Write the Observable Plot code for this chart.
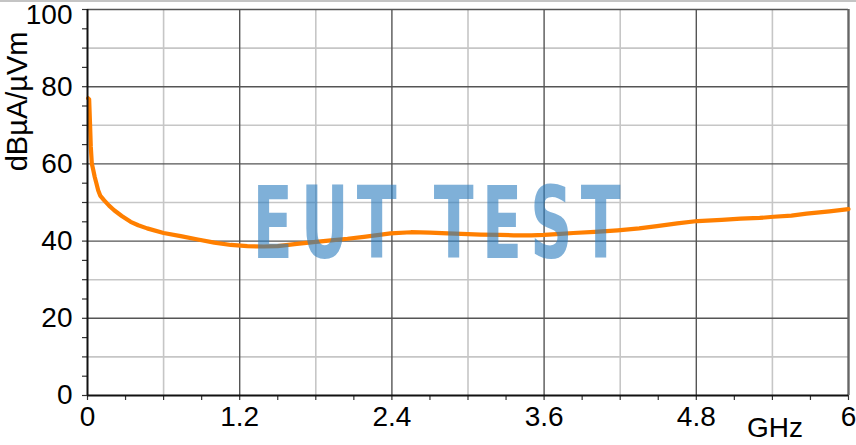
<!DOCTYPE html>
<html>
<head>
<meta charset="utf-8">
<script src="https://cdn.jsdelivr.net/npm/d3@7"></script>
<script src="https://cdn.jsdelivr.net/npm/@observablehq/plot@0.6"></script>
<style>
  html, body { margin: 0; padding: 0; background: #fff; }
  #chart { position: relative; width: 856px; }
  #chart svg { display: block; }
  #chart::before { content: ""; position: absolute; top: 0; left: 0; right: 0; height: 2px; background: #c4c4c4; }
</style>
</head>
<body>
<div id="chart"></div>
<script>
// ---- data ----
const freqGHz = [0.005, 0.013, 0.02, 0.026, 0.034, 0.045, 0.057, 0.07, 0.084, 0.1, 0.13, 0.17, 0.21, 0.27, 0.34, 0.4, 0.47, 0.6, 0.735, 0.87, 1.0, 1.13, 1.26, 1.39, 1.5, 1.65, 1.8, 1.92, 2.05, 2.18, 2.3, 2.39, 2.55, 2.7, 2.84, 3.0, 3.1, 3.25, 3.36, 3.5, 3.6, 3.7, 3.83, 4.0, 4.18, 4.35, 4.49, 4.65, 4.81, 5.0, 5.15, 5.3, 5.41, 5.55, 5.67, 5.85, 6.0];
const level = [77, 76.7, 70.4, 64.4, 60.1, 58.5, 56.6, 55, 53.2, 51.8, 50.6, 49.2, 48.0, 46.5, 45.0, 44.1, 43.3, 42.1, 41.3, 40.4, 39.6, 39.0, 38.7, 38.6, 38.7, 39.3, 39.8, 40.2, 40.6, 41.1, 41.6, 42.0, 42.3, 42.2, 42.0, 41.8, 41.7, 41.6, 41.5, 41.5, 41.6, 41.8, 42.1, 42.4, 42.8, 43.3, 43.9, 44.6, 45.2, 45.5, 45.8, 46.0, 46.3, 46.6, 47.1, 47.7, 48.3];
const xTicks = [0, 1.2, 2.4, 3.6, 4.8, 6];
const xMinorGrid = [0.6, 1.8, 3.0, 4.2, 5.4];
const xSmallTicks = d3.range(0, 6.001, 0.3);
const yTicks = [0, 20, 40, 60, 80, 100];
const yMinorGrid = [10, 30, 50, 70, 90];
const ySmallTicks = d3.range(0, 100.1, 5);
const yLabel = "dBµA/µVm";
const xUnit = "GHz";
const watermark = "EUT TEST";

const data = freqGHz.map((f, i) => ({f, v: level[i]}));
const font = "'Liberation Sans', Arial, sans-serif";
const wmScale = 0.65;
const yTop = yTicks[yTicks.length - 1];

const chart = Plot.plot({
  width: 856,
  height: 445,
  marginLeft: 87,
  marginRight: 8,
  marginTop: 9,
  marginBottom: 50,
  style: {fontFamily: font, background: "#fff", overflow: "visible"},
  x: {domain: [0, 6], axis: null, label: null},
  y: {domain: [0, 100], axis: null, label: null},
  marks: [
    Plot.ruleX(xMinorGrid, {stroke: "#c6c6c6", strokeWidth: 1.6}),
    Plot.ruleY(yMinorGrid, {stroke: "#c6c6c6", strokeWidth: 1.6}),
    Plot.ruleX(xTicks.slice(1), {stroke: "#555", strokeWidth: 1.4}),
    Plot.ruleY(yTicks.slice(1), {stroke: "#555", strokeWidth: 1.4}),
    Plot.ruleX([6], {stroke: "#666", strokeWidth: 2.2}),
    Plot.line(data, {x: "f", y: "v", stroke: "#ff7f00", strokeWidth: 4.2, curve: "linear"}),
    Plot.text([watermark], {
      x: () => 2.753, y: () => 44, text: d => d,
      fontSize: 100, fontWeight: "bold", fontFamily: "'DejaVu Sans Condensed', 'DejaVu Sans', sans-serif",
      fill: "#2a7bbe", fillOpacity: 0.6, lineAnchor: "middle", textAnchor: "middle",
      className: "wm"
    }),
    Plot.axisY(ySmallTicks, {tickSize: 5, tickFormat: () => "", label: null, stroke: "#333", strokeWidth: 1.2}),
    Plot.axisY(yTicks.filter(d => d !== yTop), {tickSize: 0, tickPadding: 15, fontSize: 28, fill: "#000", label: null}),
    Plot.axisY([yTop], {tickSize: 0, tickPadding: 15, fontSize: 28, fill: "#000", label: null, dy: 6}),
    Plot.axisX(xSmallTicks, {tickSize: 5, tickFormat: () => "", label: null, stroke: "#333", strokeWidth: 1.2}),
    Plot.axisX(xTicks, {tickSize: 0, tickPadding: 11, fontSize: 28, fill: "#000", label: null, tickFormat: d => String(d)}),
    Plot.ruleX([0], {stroke: "#111", strokeWidth: 2}),
    Plot.ruleY([0], {stroke: "#111", strokeWidth: 2}),
    Plot.text([xUnit], {x: () => 5.42, frameAnchor: "bottom", text: d => d, dy: 41, lineAnchor: "bottom", fontSize: 28, fill: "#000"}),
    Plot.text([yLabel], {frameAnchor: "top-left", text: d => d, rotate: -90, textAnchor: "end", lineAnchor: "middle", dx: -70, dy: 22, fontSize: 29, fill: "#000"})
  ]
});

chart.querySelectorAll(".wm text").forEach(t => {
  t.setAttribute("textLength", String(368 / wmScale));
  t.setAttribute("lengthAdjust", "spacing");
  const tr = t.getAttribute("transform") || "";
  t.setAttribute("transform", tr + ` scale(${wmScale},1)`);
});
document.getElementById("chart").append(chart);
</script>
</body>
</html>
